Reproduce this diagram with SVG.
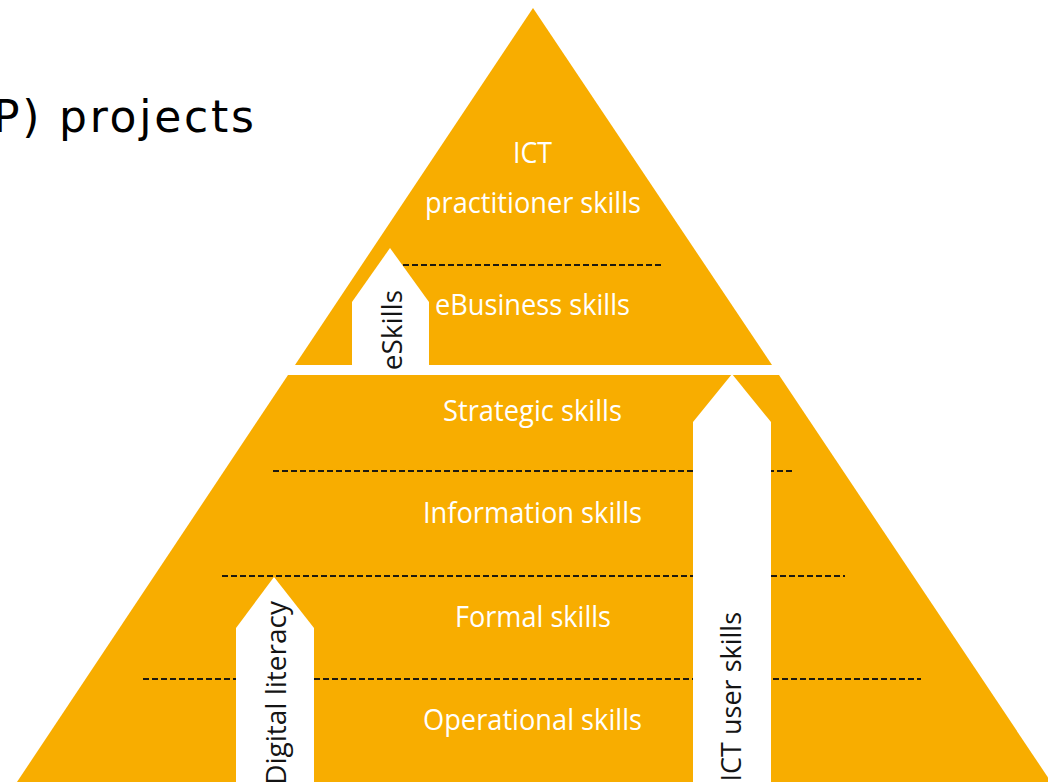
<svg xmlns="http://www.w3.org/2000/svg" width="1048" height="782" viewBox="0 0 1048 782">
  <style>
    .tier { fill: #F8AD00; }
    .arrow { fill: #FFFFFF; }
    .lbl { font-family: "Open Sans", "Liberation Sans", sans-serif; font-size: 30px; fill: #FFFFFF; text-anchor: middle; }
    .vlbl { font-family: "Open Sans", "Liberation Sans", sans-serif; font-size: 28px; fill: #141414; text-anchor: end; }
    .dash { stroke: #1E1A10; stroke-width: 2; stroke-dasharray: 6 3; fill: none; }
    .title { font-family: "DejaVu Sans", "Verdana", sans-serif; font-size: 44px; fill: #000000; }
  </style>
  <rect width="1048" height="782" fill="#FFFFFF"/>

  <text class="title" x="-7" y="132" textLength="261" lengthAdjust="spacing">P) projects</text>

  <g id="upper-tier">
    <polygon class="tier" points="533,8 772,365 295,365"/>
  </g>
  <g id="lower-tier">
    <polygon class="tier" points="288,375 779,375 1051,782 17,782"/>
  </g>

  <g id="dividers">
    <line class="dash" x1="403" y1="265" x2="663" y2="265"/>
    <line class="dash" x1="273" y1="471" x2="793" y2="471"/>
    <line class="dash" x1="222" y1="576" x2="845" y2="576"/>
    <line class="dash" x1="143" y1="679" x2="921" y2="679"/>
  </g>

  <g id="connectors">
    <polygon id="eskills-arrow" class="arrow" points="390,248 429,302 429,366 352,366 352,302"/>
    <polygon id="ict-user-arrow" class="arrow" points="732,374 771,422 771,790 693,790 693,422"/>
    <polygon id="digital-arrow" class="arrow" points="274,577 314,628 314,790 236,790 236,628"/>
  </g>

  <g id="ict-practitioner">
    <text class="lbl" x="532.5" y="163" textLength="39" lengthAdjust="spacingAndGlyphs">ICT</text>
    <text class="lbl" x="533" y="213" textLength="216" lengthAdjust="spacingAndGlyphs">practitioner skills</text>
  </g>
  <g id="ebusiness">
    <text class="lbl" x="532.5" y="315" textLength="195" lengthAdjust="spacingAndGlyphs">eBusiness skills</text>
  </g>
  <g id="strategic">
    <text class="lbl" x="532.5" y="421" textLength="179" lengthAdjust="spacingAndGlyphs">Strategic skills</text>
  </g>
  <g id="information">
    <text class="lbl" x="532.5" y="523" textLength="219" lengthAdjust="spacingAndGlyphs">Information skills</text>
  </g>
  <g id="formal">
    <text class="lbl" x="533" y="627" textLength="156" lengthAdjust="spacingAndGlyphs">Formal skills</text>
  </g>
  <g id="operational">
    <text class="lbl" x="532.5" y="730" textLength="219" lengthAdjust="spacingAndGlyphs">Operational skills</text>
  </g>

  <g id="eskills-label">
    <text class="vlbl" transform="translate(402,290) rotate(-90)">eSkills</text>
  </g>
  <g id="ict-user-label">
    <text class="vlbl" style="font-size:27px" transform="translate(741,612) rotate(-90)">ICT user skills</text>
  </g>
  <g id="digital-label">
    <text class="vlbl" transform="translate(286,601) rotate(-90)">Digital literacy</text>
  </g>
</svg>
